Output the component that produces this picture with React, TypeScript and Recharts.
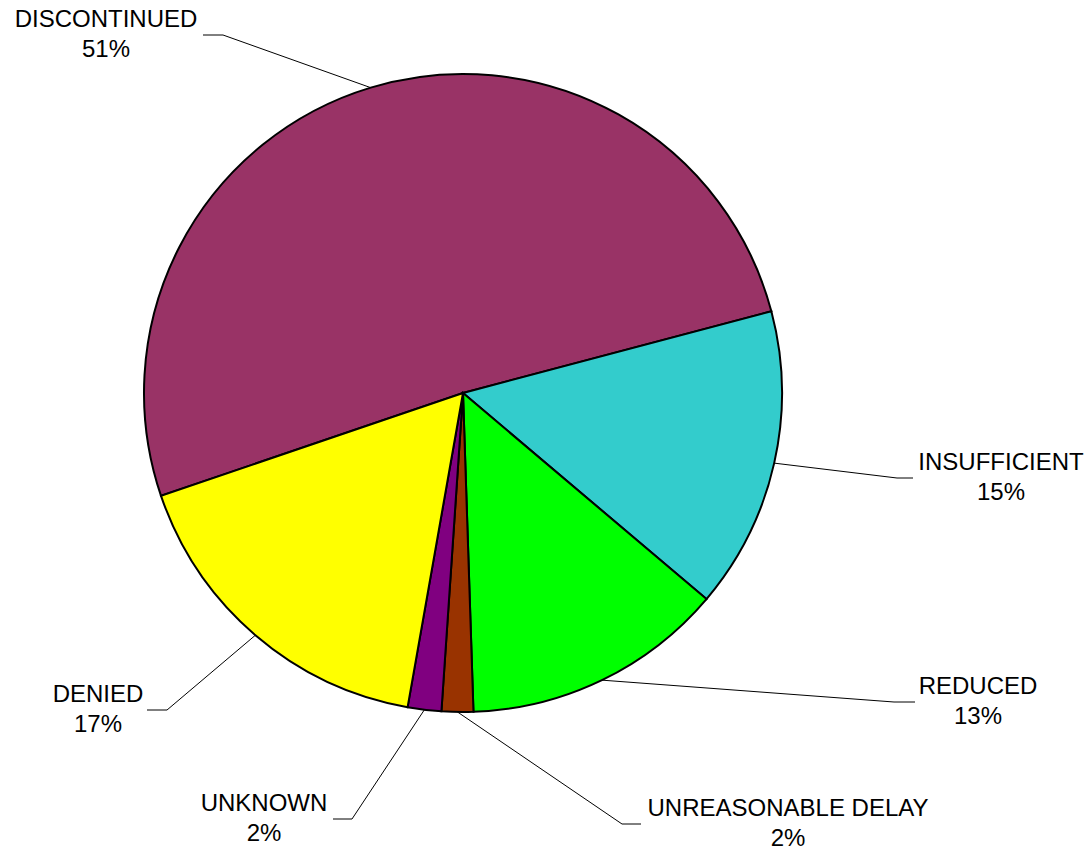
import { PieChart, Pie, Cell } from 'recharts'

const categories = ['DISCONTINUED', 'INSUFFICIENT', 'REDUCED', 'UNREASONABLE DELAY', 'UNKNOWN', 'DENIED']
const shares = [51.1, 15.3, 13.3, 1.6, 1.7, 17.0]

const colors = ['#993366', '#33CCCC', '#00FF00', '#993300', '#800080', '#FFFF00']

// where each label sits: elbow of the leader line, end of the short flat bit, text centre
const labelSpots = [
  { ex: 223, ey: 35, hx: 203, tx: 106 },
  { ex: 897, ey: 478, hx: 913, tx: 1001 },
  { ex: 894, ey: 702, hx: 915, tx: 978 },
  { ex: 622, ey: 824, hx: 641, tx: 788 },
  { ex: 352, ey: 819, hx: 333, tx: 264 },
  { ex: 167, ey: 710, hx: 147, tx: 98 },
]

const data = categories.map((name, i) => ({ name, value: shares[i] }))

const RAD = Math.PI / 180

function renderLabel(props: any) {
  const { cx, cy, midAngle, outerRadius, index, percent, name } = props
  const spot = labelSpots[index]
  const sx = cx + outerRadius * Math.cos(-midAngle * RAD)
  const sy = cy + outerRadius * Math.sin(-midAngle * RAD)
  return (
    <g key={`lbl-${index}`}>
      <polyline
        points={`${sx},${sy} ${spot.ex},${spot.ey} ${spot.hx},${spot.ey}`}
        fill="none"
        stroke="#000"
        strokeWidth={1}
      />
      <text
        x={spot.tx}
        y={spot.ey - 8}
        textAnchor="middle"
        fontFamily="'Liberation Sans', Arial, sans-serif"
        fontSize={24}
        fill="#000"
      >
        <tspan x={spot.tx}>{name}</tspan>
        <tspan x={spot.tx} dy={30}>{`${Math.round(percent * 100)}%`}</tspan>
      </text>
    </g>
  )
}

export default function App() {
  return (
    <div style={{ position: 'absolute', left: 0, top: 0, width: 1092, height: 853, background: '#fff' }}>
      <PieChart width={1092} height={853} margin={{ top: 0, right: 0, bottom: 0, left: 0 }}>
        <Pie
          data={data}
          dataKey="value"
          nameKey="name"
          cx={463}
          cy={393}
          outerRadius={319}
          startAngle={198.8}
          endAngle={-161.2}
          stroke="#000"
          strokeWidth={2}
          label={renderLabel}
          labelLine={false}
          isAnimationActive={false}
        >
          {data.map((d, i) => (
            <Cell key={d.name} fill={colors[i]} />
          ))}
        </Pie>
      </PieChart>
    </div>
  )
}
